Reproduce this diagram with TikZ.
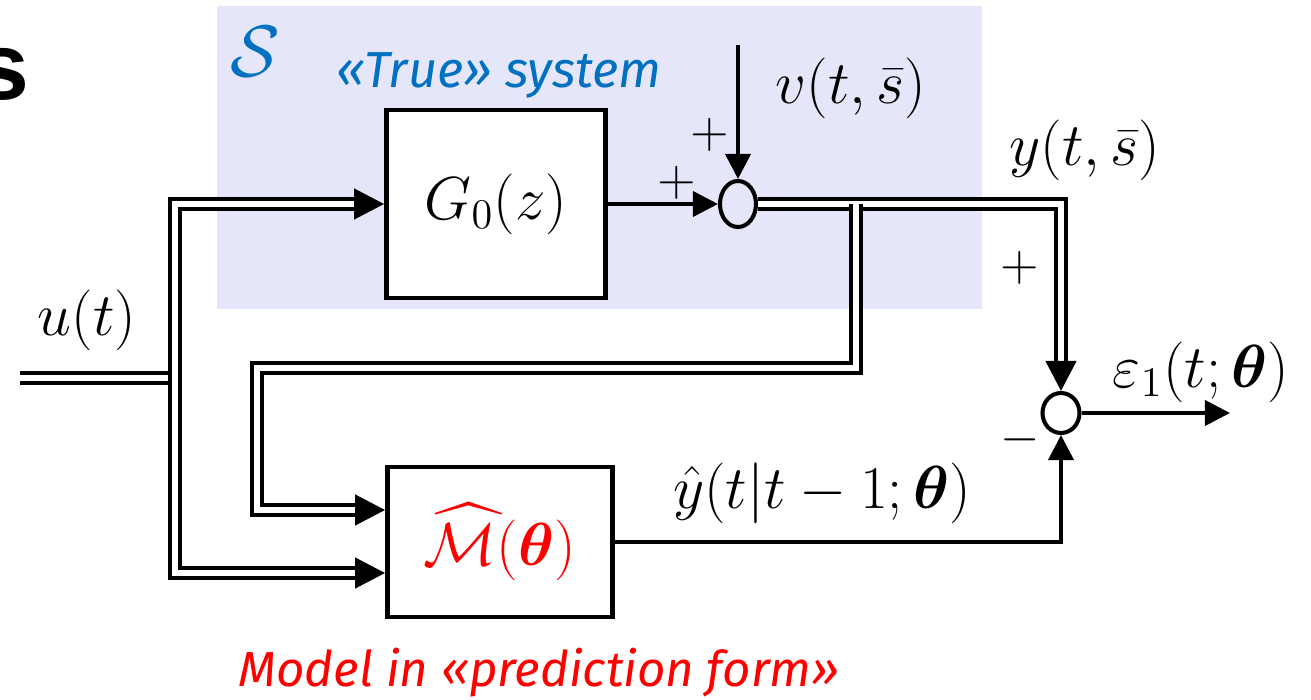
\documentclass[tikz,border=0pt]{standalone}
\usepackage{amsmath, amssymb}
\usepackage[no-math]{fontspec}
\usepackage{tikz}
\usetikzlibrary{arrows.meta, positioning, calc, shapes.geometric}
\newfontfamily\captionsans{Fira Sans}
\newfontfamily\headsans{Liberation Sans}
\definecolor{systemblue}{HTML}{0070C0}
\definecolor{modelred}{HTML}{FF0000}
\definecolor{truelavender}{HTML}{E6E6FA}

\begin{document}
\begin{tikzpicture}[x=0.01cm, y=-0.01cm, >={Triangle[length=0.25cm, width=0.25cm]},
    block/.style={draw, line width=1.3pt, fill=white, inner sep=0pt},
    sumnode/.style={draw, ellipse, line width=1.15pt, inner sep=0pt},
    sig/.style={->, line width=1.1pt},
    bus/.style={double, line width=1.25pt, double distance=1.75pt},
    bustip/.style={-{Triangle[length=0.3cm, width=0.3cm]}, line width=1.25pt},
    lbl/.style={font=\fontsize{17.5}{21}\selectfont, inner sep=0pt},
    sign/.style={font=\fontsize{14}{16}\selectfont, inner sep=0pt}]
    \useasboundingbox (0,0) rectangle (1311,700);

    % ── TRUE SYSTEM ───────────────────────────────────────────────────
    \fill[truelavender] (217,6) rectangle (982,309);
    \node[font=\headsans\bfseries\fontsize{27}{30}\selectfont, anchor=base east, inner sep=0pt] (title) at (30,100) {s};
    \node[systemblue, font=\fontsize{22}{24}\selectfont, inner sep=0pt] (sysname) at (255,52) {$\mathcal{S}$};
    \node[systemblue, font=\captionsans\itshape\fontsize{14.4}{17}\selectfont, inner sep=0pt] (systext) at (499,75) {«True» system};

    \node[block, minimum width=2.19cm, minimum height=1.88cm, lbl] (G0) at (496,204) {$G_0(z)$};
    \node[sumnode, minimum width=0.36cm, minimum height=0.46cm] (sum1) at (738,204) {};
    \coordinate (vin) at (738,45);
    \node[lbl] (vlabel) at (851,88) {$v(t,\bar{s})$};
    \node[sign] (plusv) at (710,135) {$+$};
    \node[sign] (plusg) at (677,183) {$+$};

    \draw[sig] (G0.east) -- (sum1.west);
    \draw[sig] (vin) -- (sum1.north);

    % ── MODEL ─────────────────────────────────────────────────────────
    \node[block, minimum width=2.25cm, minimum height=1.50cm, font=\fontsize{19}{22}\selectfont, text=modelred] (M) at (500,542) {$\widehat{\mathcal{M}}(\boldsymbol{\theta})$};
    \node[modelred, font=\captionsans\itshape\fontsize{14}{17}\selectfont, inner sep=0pt] (modeltext) at (539,673) {Model in «prediction form»};

    % ── ERROR ─────────────────────────────────────────────────────────
    \node[sumnode, minimum width=0.37cm, minimum height=0.40cm] (sum2) at (1061,413) {};
    \coordinate (epsout) at (1230,413);
    \node[lbl] (ylabel) at (1085,150) {$y(t,\bar{s})$};
    \node[lbl] (epslabel) at (1201,372) {$\varepsilon_1(t;\boldsymbol{\theta})$};
    \node[lbl] (yhatlabel) at (822,493) {$\hat{y}(t|t-1;\boldsymbol{\theta})$};
    \node[sign] (plusy) at (1020,268) {$+$};
    \node[sign] (minusy) at (1020,440) {$-$};

    \draw[sig] (sum2.east) -- (epsout);
    \draw[sig] (M.east) -| (sum2.south);

    % ── INPUT BUS ─────────────────────────────────────────────────────
    \coordinate (uin) at (20,378);
    \coordinate (bus) at (175,378);
    \node[lbl] (ulabel) at (87,320) {$u(t)$};
    \draw[bus] (uin) -- (bus);
    \draw[bus] ($(G0.west)+(-30,0)$) -| (bus) |- ($(M.west)+(-30,31)$);
    \draw[bustip] ($(G0.west)+(-30,0)$) -- (G0.west);
    \draw[bustip] ($(M.west)+(-30,31)$) -- ($(M.west)+(0,31)$);

    % ── OUTPUT AND FEEDBACK ───────────────────────────────────────────
    \coordinate (tap) at (856,204);
    \coordinate (loop) at (257,368);
    \draw[bus] (sum1.east) -| ($(sum2.north)+(0,-28)$);
    \draw[bustip] ($(sum2.north)+(0,-28)$) -- (sum2.north);
    \draw[bus] (tap) |- (loop) |- ($(M.west)+(-30,-32)$);
    \draw[bustip] ($(M.west)+(-30,-32)$) -- ($(M.west)+(0,-32)$);
\end{tikzpicture}
\end{document}
